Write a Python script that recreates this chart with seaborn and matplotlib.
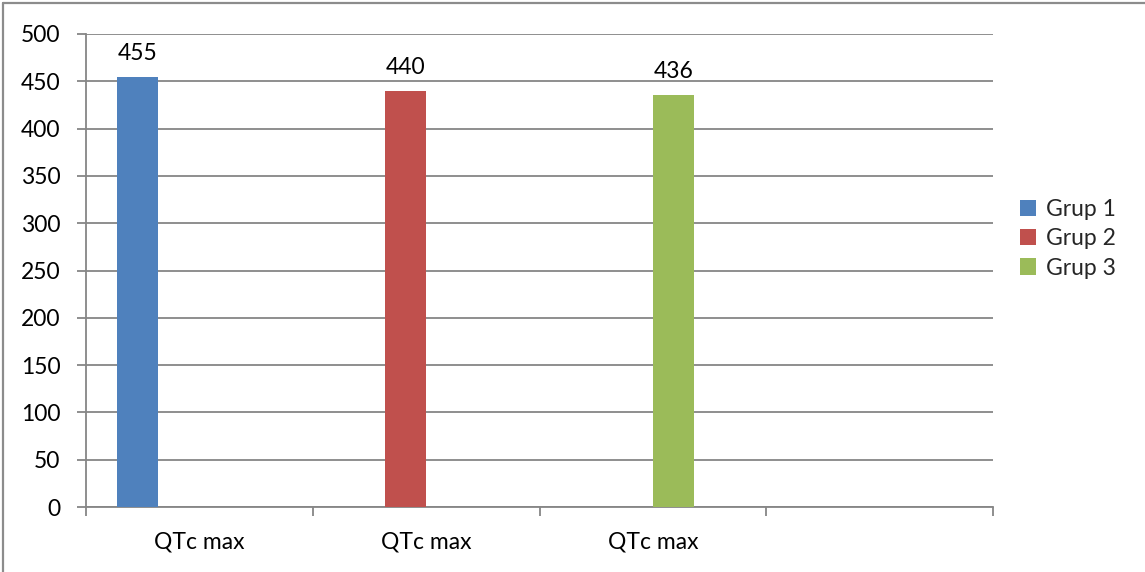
import matplotlib
matplotlib.use("Agg")
import matplotlib.pyplot as plt
from matplotlib.lines import Line2D
from matplotlib.patches import Patch
import seaborn as sns
import pandas as pd

# Chart data
tick_labels = ["QTc max", "QTc max", "QTc max"]
groups = ["Grup 1", "Grup 2", "Grup 3"]
values = [455, 440, 436]
colors = ["#4F81BD", "#C0504D", "#9BBB59"]

# four category slots; the last one is left empty, as is a fourth series slot
slots = ["s1", "s2", "s3", "s4"]
df = pd.DataFrame({"slot": slots[:3], "group": groups, "value": values})

sns.set_theme(style="white")
plt.rcParams["font.family"] = ["Lato", "DejaVu Sans"]
FS = 16.5
plt.rcParams["font.size"] = FS

W, H = 1145, 572
fig = plt.figure(figsize=(W / 100, H / 100), dpi=100)
ax = fig.add_axes([86 / W, 1 - 507 / H, (993 - 86) / W, (507 - 34) / H])

hue_order = groups + ["_pad"]
palette = dict(zip(groups, colors))
palette["_pad"] = "#FFFFFF"

sns.barplot(data=df, x="slot", y="value", hue="group", order=slots,
            hue_order=hue_order, palette=palette, width=0.724, dodge=True,
            saturation=1, errorbar=None, legend=False, linewidth=0,
            ax=ax, zorder=3)

for cont in ax.containers:
    if len(cont.datavalues):
        ax.bar_label(cont, fmt="%d", padding=9, fontsize=FS, color="#000000")

grid_c = "#868686"
ax.set_ylim(0, 500)
ax.set_yticks(range(0, 501, 50))
ax.yaxis.grid(True, color=grid_c, linewidth=1.3, zorder=0)
ax.set_axisbelow(True)
ax.set_xlim(-0.5, 3.5)
ax.set_xticks([-0.5, 0.5, 1.5, 2.5, 3.5], ["", "", "", "", ""])
ax.set_xticks([0, 1, 2], tick_labels, minor=True)
ax.tick_params(axis="x", which="major", direction="out", length=6.5,
               width=1.3, color=grid_c, bottom=True)
ax.tick_params(axis="x", which="minor", length=0, pad=18, labelsize=FS,
               labelcolor="#000000")
ax.tick_params(axis="y", direction="out", length=6.5, width=1.3,
               color=grid_c, left=True, pad=12, labelsize=FS,
               labelcolor="#000000")
ax.set_xlabel("")
ax.set_ylabel("")
for side in ["top", "right"]:
    ax.spines[side].set_visible(False)
for side in ["left", "bottom"]:
    ax.spines[side].set_color(grid_c)
    ax.spines[side].set_linewidth(1.3)

handles = [Patch(facecolor=c, edgecolor="none") for c in colors]
fig.legend(handles, groups, loc="center left",
           bbox_to_anchor=(1020 / W, 1 - 239 / H), frameon=False,
           handlelength=0.7, handleheight=0.7, handletextpad=0.45,
           labelspacing=0.35, fontsize=FS, borderaxespad=0, borderpad=0)

# outer chart frame
fig.add_artist(Line2D([3 / W, 3 / W], [0, 1 - 3 / H], color="#8C8C8C",
                      linewidth=1.6, transform=fig.transFigure))
fig.add_artist(Line2D([3 / W, 1], [1 - 3 / H, 1 - 3 / H], color="#8C8C8C",
                      linewidth=1.6, transform=fig.transFigure))

fig.savefig("out.png", dpi=100)
